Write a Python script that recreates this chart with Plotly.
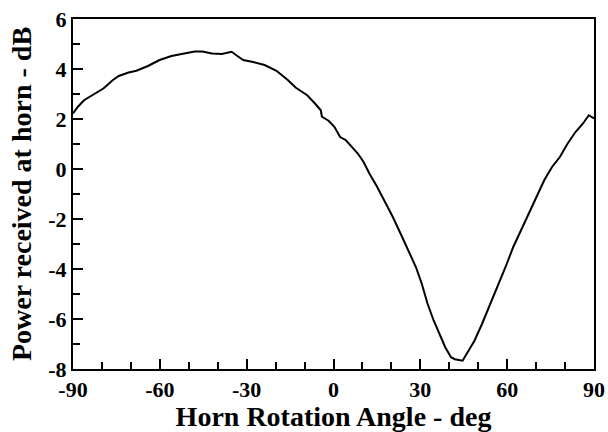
import plotly.graph_objects as go

# horn rotation angle (deg) and received power (dB)
angle = [-90, -88.3, -86.2, -82.9, -79.5, -76.2, -74.2, -70.8, -68.1, -64.1,
         -60.1, -56.0, -52.0, -48.0, -45.3, -42.0, -38.6, -35.2, -33.2, -31.2,
         -27.8, -23.8, -19.7, -15.8, -13.1, -9.1, -6.4, -4.4, -4.0, -1.7,
         0.3, 2.3, 4.3, 6.4, 8.4, 10.4, 12.4, 15.1, 17.8, 20.5,
         23.2, 25.8, 28.5, 30.5, 32.5, 34.6, 36.6, 38.6, 40.6, 41.9,
         44.6, 46.0, 48.7, 51.3, 54.0, 56.7, 59.4, 62.1, 64.8, 67.5,
         70.1, 72.8, 75.5, 78.2, 80.9, 83.6, 86.2, 88.2, 90]
power = [2.22, 2.49, 2.75, 2.98, 3.22, 3.56, 3.72, 3.86, 3.93, 4.12,
         4.36, 4.52, 4.62, 4.70, 4.70, 4.62, 4.60, 4.69, 4.52, 4.36,
         4.28, 4.16, 3.93, 3.56, 3.26, 2.95, 2.62, 2.35, 2.09, 1.93,
         1.69, 1.28, 1.15, 0.88, 0.62, 0.28, -0.18, -0.72, -1.32, -1.92,
         -2.59, -3.26, -3.93, -4.59, -5.39, -6.06, -6.60, -7.13, -7.53, -7.61,
         -7.67, -7.40, -6.87, -6.20, -5.46, -4.73, -3.93, -3.12, -2.46, -1.79,
         -1.12, -0.45, 0.08, 0.48, 1.02, 1.48, 1.82, 2.15, 2.02]

x_ticks = [-90, -60, -30, 0, 30, 60, 90]
x_labels = ["-90", "-60", "-30", "0", "30", "60", "90"]
y_ticks = [-8, -6, -4, -2, 0, 2, 4, 6]
y_labels = ["-8", "-6", "-4", "-2", "0", "2", "4", "6"]

serif = "Liberation Serif"

fig = go.Figure()
fig.add_trace(go.Scatter(x=angle, y=power, mode="lines",
                         line=dict(color="black", width=2), showlegend=False))

axis_common = dict(showline=True, linecolor="black", linewidth=2, mirror=True,
                   showgrid=False, zeroline=False, ticks="inside", ticklen=10,
                   tickwidth=2, tickcolor="black", automargin=False,
                   tickfont=dict(family=serif, size=22, color="black", weight="bold"))

fig.update_xaxes(range=[-90, 90], tickvals=x_ticks, ticktext=x_labels, **axis_common,
                 minor=dict(dtick=10, ticks="inside", ticklen=7, tickwidth=2, tickcolor="black"),
                 title=dict(text="Horn Rotation Angle - deg", standoff=10,
                            font=dict(family=serif, size=28, color="black", weight="bold")))
fig.update_yaxes(range=[-8, 6], tickvals=y_ticks, ticktext=y_labels, **axis_common,
                 minor=dict(dtick=1, ticks="inside", ticklen=7, tickwidth=2, tickcolor="black"),
                 title=dict(text="Power received at horn - dB", standoff=8,
                            font=dict(family=serif, size=28, color="black", weight="bold")))

fig.update_layout(width=608, height=432, plot_bgcolor="white", paper_bgcolor="white",
                  margin=dict(l=73, r=14, t=19, b=63))

# drop the browser's default body margin so the figure sits at the page corner
fig.write_html("out.html", config={"displayModeBar": False},
               post_script="document.body.style.margin='0';")
